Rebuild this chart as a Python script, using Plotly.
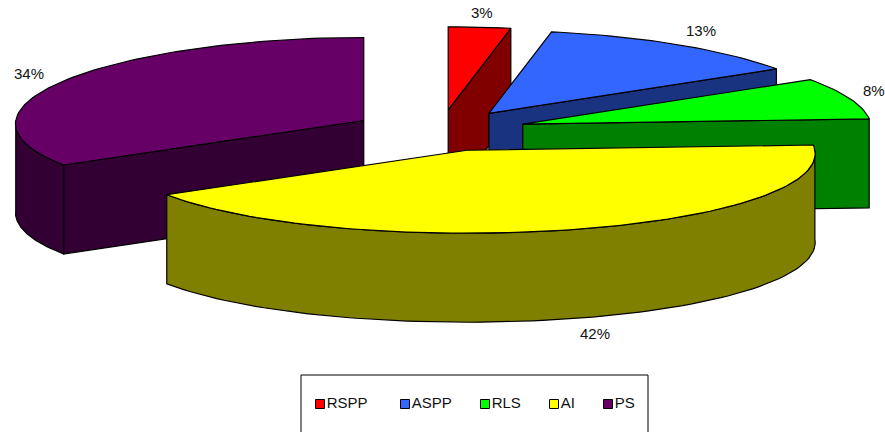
import numpy as np
import plotly.graph_objects as go

categories = ["RSPP", "ASPP", "RLS", "AI", "PS"]
values = [3, 13, 8, 42, 34]
top_colors = ["#FF0000", "#3366FF", "#00FF00", "#FFFF00", "#660066"]
side_colors = ["#800000", "#1A3380", "#008000", "#808000", "#330033"]
draw_order = [4, 0, 1, 2, 3]

# projection of the tilted, exploded pie
CX, CY = 440.0, 130.5
RX, RY = 348.0, 83.0
EXPLODE = 0.25
DEPTH = 89.0
PERSP = 0.04
LABEL_POS = [(482, 12), (701, 30), (874, 90), (595, 333), (29, 73)]
LEGEND_X = [320, 405, 485, 554, 608]
LEGEND_Y = 404
BOX = (301, 375, 648, 445)

total = sum(values)
edges = np.cumsum([0] + values) / total * 2 * np.pi


def rim(ax, ay, t):
    t = np.asarray(t, dtype=float)
    return ax + RX * np.sin(t) * (1 - PERSP * np.cos(t)), ay - RY * np.cos(t)


fig = go.Figure()


def poly(xs, ys, color, name):
    fig.add_trace(go.Scatter(
        x=list(xs), y=list(ys), mode="lines", fill="toself", fillcolor=color,
        line=dict(color="black", width=1.2), name=name, showlegend=False,
        hoverinfo="name",
    ))


for i in draw_order:
    t0, t1 = edges[i], edges[i + 1]
    mid = (t0 + t1) / 2
    ax = CX + EXPLODE * RX * np.sin(mid)
    ay = CY - EXPLODE * RY * np.cos(mid)
    name = categories[i]
    # cut faces that turn toward the viewer
    for t, visible in ((t0, np.sin(t0) < -1e-6), (t1, np.sin(t1) > 1e-6)):
        if visible:
            ex, ey = rim(ax, ay, t)
            poly([ax, ex, ex, ax, ax],
                 [ay, ey, ey + DEPTH, ay + DEPTH, ay], side_colors[i], name)
    # outer wall on the front half of the ellipse
    a, b = max(t0, np.pi / 2), min(t1, 3 * np.pi / 2)
    if b > a:
        t = np.linspace(a, b, 90)
        wx, wy = rim(ax, ay, t)
        poly(np.r_[wx, wx[::-1], wx[0]],
             np.r_[wy, wy[::-1] + DEPTH, wy[0]], side_colors[i], name)
    # top face
    t = np.linspace(t0, t1, max(3, int((t1 - t0) * 40)))
    tx, ty = rim(ax, ay, t)
    poly(np.r_[ax, tx, ax], np.r_[ay, ty, ay], top_colors[i], name)

# legend entries
for i, name in enumerate(categories):
    fig.add_trace(go.Scatter(
        x=[LEGEND_X[i]], y=[LEGEND_Y], mode="markers+text", text=[name],
        textposition="middle right", name=name, showlegend=False,
        marker=dict(symbol="square", size=9, color=top_colors[i],
                    line=dict(color="black", width=1)),
        textfont=dict(family="Liberation Sans", size=15, color="#111111"),
        cliponaxis=False, hoverinfo="name",
    ))

annotations = [
    dict(x=p[0], y=p[1], xref="x", yref="y", showarrow=False,
         text=f"{round(v / total * 100)}%",
         font=dict(family="Liberation Sans", size=15, color="#111111"))
    for p, v in zip(LABEL_POS, values)
]

fig.update_layout(
    width=885, height=432, margin=dict(l=0, r=0, t=0, b=0),
    paper_bgcolor="white", plot_bgcolor="white", showlegend=False,
    xaxis=dict(range=[0, 885], visible=False, fixedrange=True),
    yaxis=dict(range=[432, 0], visible=False, fixedrange=True),
    annotations=annotations,
    shapes=[dict(type="rect", xref="x", yref="y", x0=BOX[0], y0=BOX[1],
                 x1=BOX[2], y1=BOX[3], line=dict(color="black", width=1),
                 fillcolor="white", layer="below")],
)

fig.write_html("out.html", config={"displayModeBar": False},
               post_script="document.body.style.margin='0';")
